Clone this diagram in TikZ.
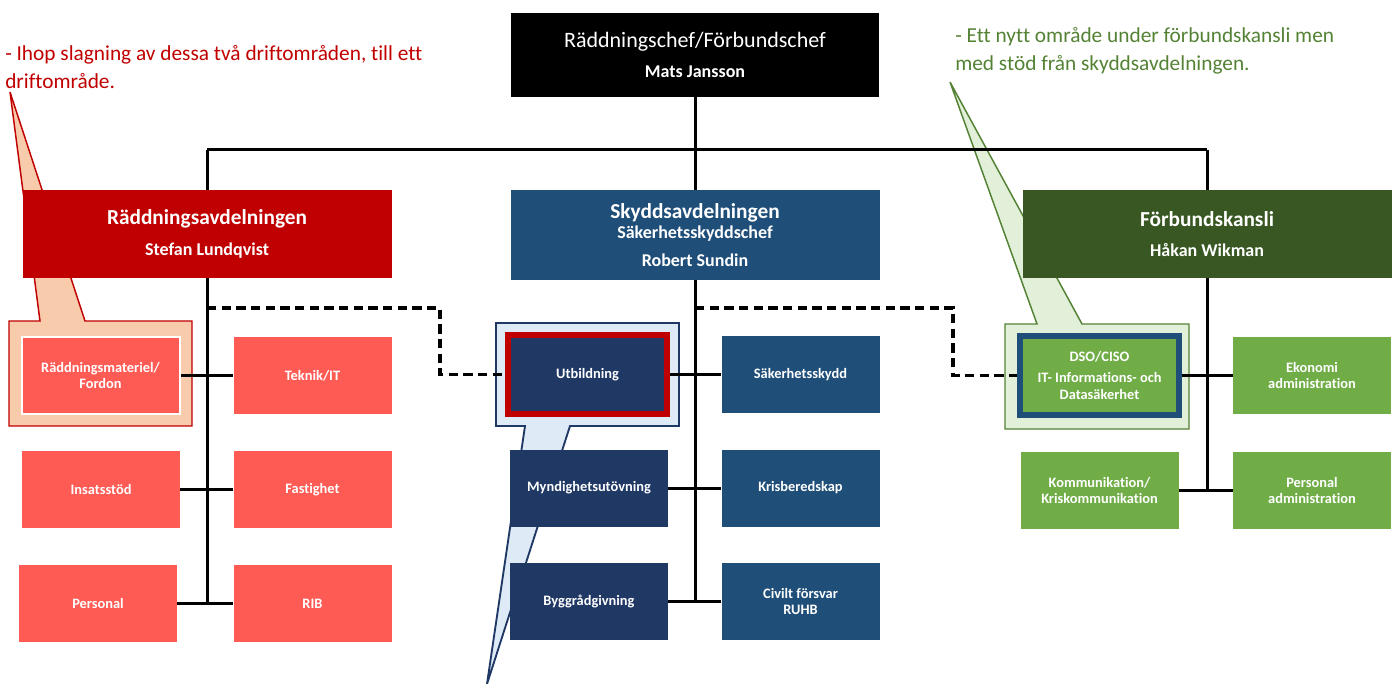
\documentclass[tikz,border=0pt]{standalone}
\usepackage{fontspec}
\setmainfont{Carlito}[Ligatures={TeX,NoCommon}]
\definecolor{raddred}{HTML}{C00000}
\definecolor{raddlight}{HTML}{FF5B55}
\definecolor{raddpeach}{HTML}{F8CBAD}
\definecolor{skyddblue}{HTML}{1F4E79}
\definecolor{skyddnavy}{HTML}{203864}
\definecolor{skyddpale}{HTML}{DEEBF7}
\definecolor{fkdark}{HTML}{385723}
\definecolor{fkgreen}{HTML}{70AD47}
\definecolor{fkpale}{HTML}{E2F0D9}
\definecolor{notegreen}{HTML}{548235}
\tikzset{
  unit/.style={inner sep=0pt, align=center, text=white,
    font=\bfseries\fontsize{10.8}{12.5}\selectfont,
    minimum width=118.5pt, minimum height=57.75pt},
  redunit/.style={unit, fill=raddlight},
  blueunit/.style={unit, fill=skyddblue},
  navyunit/.style={unit, fill=skyddnavy},
  greenunit/.style={unit, fill=fkgreen},
  headbox/.style={inner sep=0pt, align=center, text=white,
    font=\bfseries\fontsize{13.5}{23}\selectfont,
    minimum width=276.75pt, minimum height=66pt},
  orgline/.style={line width=2.25pt},
  dashline/.style={line width=2.4pt, dash pattern=on 7pt off 4pt},
  note/.style={anchor=north west, inner sep=0pt, align=left,
    font=\fontsize{16}{21}\selectfont},
}
\begin{document}
\begin{tikzpicture}[x=0.75pt,y=0.75pt,yscale=-1,xscale=1]
\useasboundingbox (0,0) rectangle (1399,684);

%Callouts, drawn first so the boxes cover their tails
\draw [line width=1.1pt, draw=raddred, fill=raddpeach] (9,321) -- (40,321) -- (10,92) -- (85,321) -- (192,321) -- (192,426) -- (9,426) -- cycle ;
\draw [line width=1.4pt, draw=skyddnavy, fill=skyddpale] (496,323) -- (679,323) -- (679,426) -- (570,426) -- (487,684) -- (525,426) -- (496,426) -- cycle ;
\draw [line width=1.1pt, draw=notegreen, fill=fkpale] (1005,324) -- (1037,324) -- (950,82) -- (1082,324) -- (1189,324) -- (1189,429) -- (1005,429) -- cycle ;

%Top and departments
\node [headbox, fill=black, minimum width=276pt, minimum height=63pt] (chef) at (695,55) {{\mdseries\fontsize{16.5}{23}\selectfont Räddningschef/Förbundschef}\\Mats Jansson};
\node [headbox, fill=raddred] (radd) at (207,234) {{\fontsize{16}{23}\selectfont Räddningsavdelningen}\\Stefan Lundqvist};
\node [headbox, fill=skyddblue, minimum height=67.5pt, font=\bfseries\fontsize{13.5}{15}\selectfont] (skydd) at (695,235) {{\fontsize{16}{15}\selectfont Skyddsavdelningen}\\Säkerhetsskyddschef\\[6pt]Robert Sundin};
\node [headbox, fill=fkdark] (fk) at (1207,234) {{\fontsize{16}{23}\selectfont Förbundskansli}\\Håkan Wikman};

%Bus
\coordinate (busL) at (207,150);
\coordinate (busR) at (1207,150);
\draw [orgline] (chef.south) -- (chef.south |- busL);
\draw [orgline] (busL) -- (busR);
\draw [orgline] (busL) -- (radd.north);
\draw [orgline] (chef.south |- busL) -- (skydd.north);
\draw [orgline] (busR) -- (fk.north);

%Räddningsavdelningen units
\node [redunit, draw=white, line width=1.5pt] (mat) at (100.5,375.5) {Räddningsmateriel/\\Fordon};
\node [redunit] (tek) at (312.5,375.5) {Teknik/IT};
\node [redunit] (ins) at (101,489.5) {Insatsstöd};
\node [redunit] (fas) at (312.5,489.5) {Fastighet};
\node [redunit] (pers) at (98,603.5) {Personal};
\node [redunit] (rib) at (312.5,603.5) {RIB};

%Skyddsavdelningen units
\node [navyunit, draw=raddred, line width=5pt, minimum width=119.25pt, minimum height=59.25pt] (utb) at (587.5,374.5) {Utbildning};
\node [blueunit] (sak) at (800.5,374.5) {Säkerhetsskydd};
\node [navyunit] (mynd) at (589,488) {Myndighetsutövning};
\node [blueunit] (kris) at (800.5,488) {Krisberedskap};
\node [navyunit] (bygg) at (589,601.5) {Byggrådgivning};
\node [blueunit] (civ) at (800.5,601.5) {Civilt försvar\\RUHB};

%Förbundskansli units
\node [greenunit, draw=skyddblue, line width=5pt, minimum width=119.25pt, minimum height=59.25pt] (dso) at (1099.5,375.5) {DSO/CISO\\[3pt]IT- Informations- och\\Datasäkerhet};
\node [greenunit] (eko) at (1312,375.5) {Ekonomi\\administration};
\node [greenunit] (kom) at (1099.5,490.5) {Kommunikation/\\Kriskommunikation};
\node [greenunit] (padm) at (1312,490.5) {Personal\\administration};

%Trunks and branches
\draw [orgline] (radd.south) -- (radd.south |- pers.east);
\draw [orgline] (mat.east) -- (tek.west);
\draw [orgline] (ins.east) -- (fas.west);
\draw [orgline] (pers.east) -- (rib.west);
\draw [orgline] (skydd.south) -- (skydd.south |- bygg.east);
\draw [orgline] (utb.east) -- (sak.west);
\draw [orgline] (mynd.east) -- (kris.west);
\draw [orgline] (bygg.east) -- (civ.west);
\draw [orgline] (fk.south) -- (fk.south |- kom.east);
\draw [orgline] (dso.east) -- (eko.west);
\draw [orgline] (kom.east) -- (padm.west);

%Dashed support lines
\coordinate (dashL) at (207,308);
\coordinate (dashR) at (695,308);
\draw [dashline] (dashL) -- (440,308) |- (utb.west);
\draw [dashline] (dashR) -- (953,308) |- (dso.west);

%Notes
\node [note, text=raddred] (noteradd) at (5,45) {- Ihop slagning av dessa två driftområden, till ett\\driftområde.};
\node [note, text=notegreen] (notefk) at (955,27) {- Ett nytt område under förbundskansli men\\med stöd från skyddsavdelningen.};

\end{tikzpicture}
\end{document}
